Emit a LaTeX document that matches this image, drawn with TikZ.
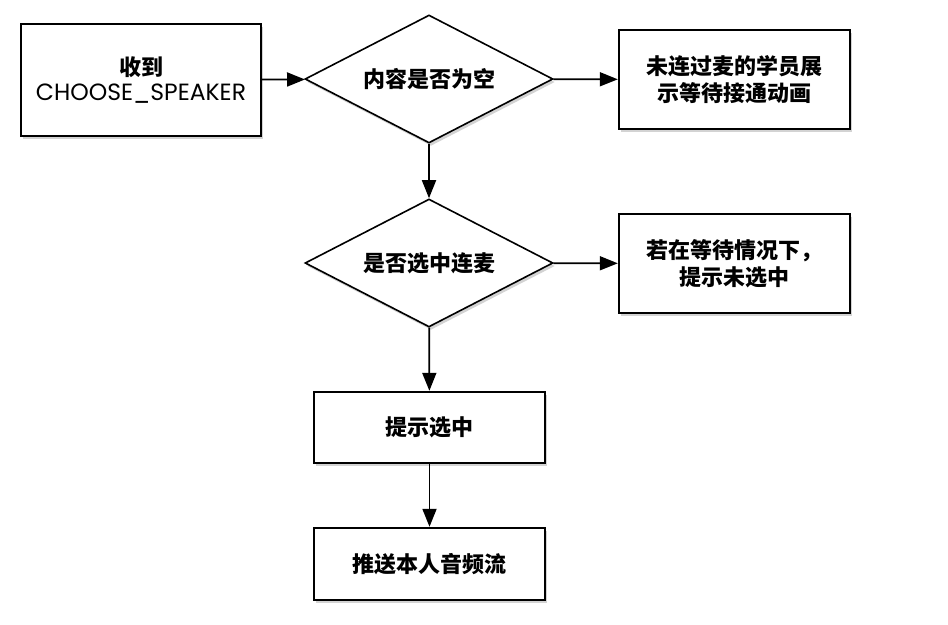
\documentclass[tikz,border=0pt]{standalone}
\usepackage{fontspec}
\newfontfamily\cjk{Noto Sans CJK SC}
\newfontfamily\latinf{Poppins}
\usetikzlibrary{shapes.geometric,arrows.meta,shadows}
\begin{document}
\begin{tikzpicture}[x=1pt,y=-1pt,
  every node/.style={font=\cjk\bfseries\fontsize{22}{27}\selectfont, align=center},
  procbox/.style={draw=black, line width=2.4pt, fill=white, minimum width=231pt, minimum height=100pt, inner sep=0pt,
     drop shadow={shadow xshift=2pt, shadow yshift=-3pt, opacity=0.35}},
  decide/.style={diamond, aspect=1.94, draw=black, line width=1.6pt, fill=white, minimum width=248pt, minimum height=128pt, inner sep=0pt,
     drop shadow={shadow xshift=2pt, shadow yshift=-3pt, opacity=0.35}},
  flow/.style={line width=1.8pt, -{Triangle[length=18pt,width=14pt]}}]
\useasboundingbox (0,0) rectangle (948,624);
\node[procbox, minimum width=240pt, minimum height=112pt] (start) at (141,80) {收到\\[-2pt]{\latinf\mdseries\fontsize{23.5}{25}\selectfont CHOOSE\_SPEAKER}};
\node[decide] (d1) at (429,79) {内容是否为空};
\node[procbox, minimum height=99pt] (wait) at (734.5,79.5) {未连过麦的学员展\\示等待接通动画};
\node[decide] (d2) at (429,263) {是否选中连麦};
\node[procbox, minimum height=99pt] (notsel) at (734.5,263.5) {若在等待情况下，\\提示未选中};
\node[procbox, minimum height=71pt] (sel) at (429.5,427.5) {提示选中};
\node[procbox, minimum height=72pt] (push) at (429.5,564) {推送本人音频流};
\draw[flow] (start) -- (d1);
\draw[flow] (d1) -- (wait);
\draw[flow] (d1) -- (d2);
\draw[flow] (d2) -- (notsel);
\draw[flow] (d2) -- (sel);
\draw[flow] (sel) -- (push);
\end{tikzpicture}
\end{document}
